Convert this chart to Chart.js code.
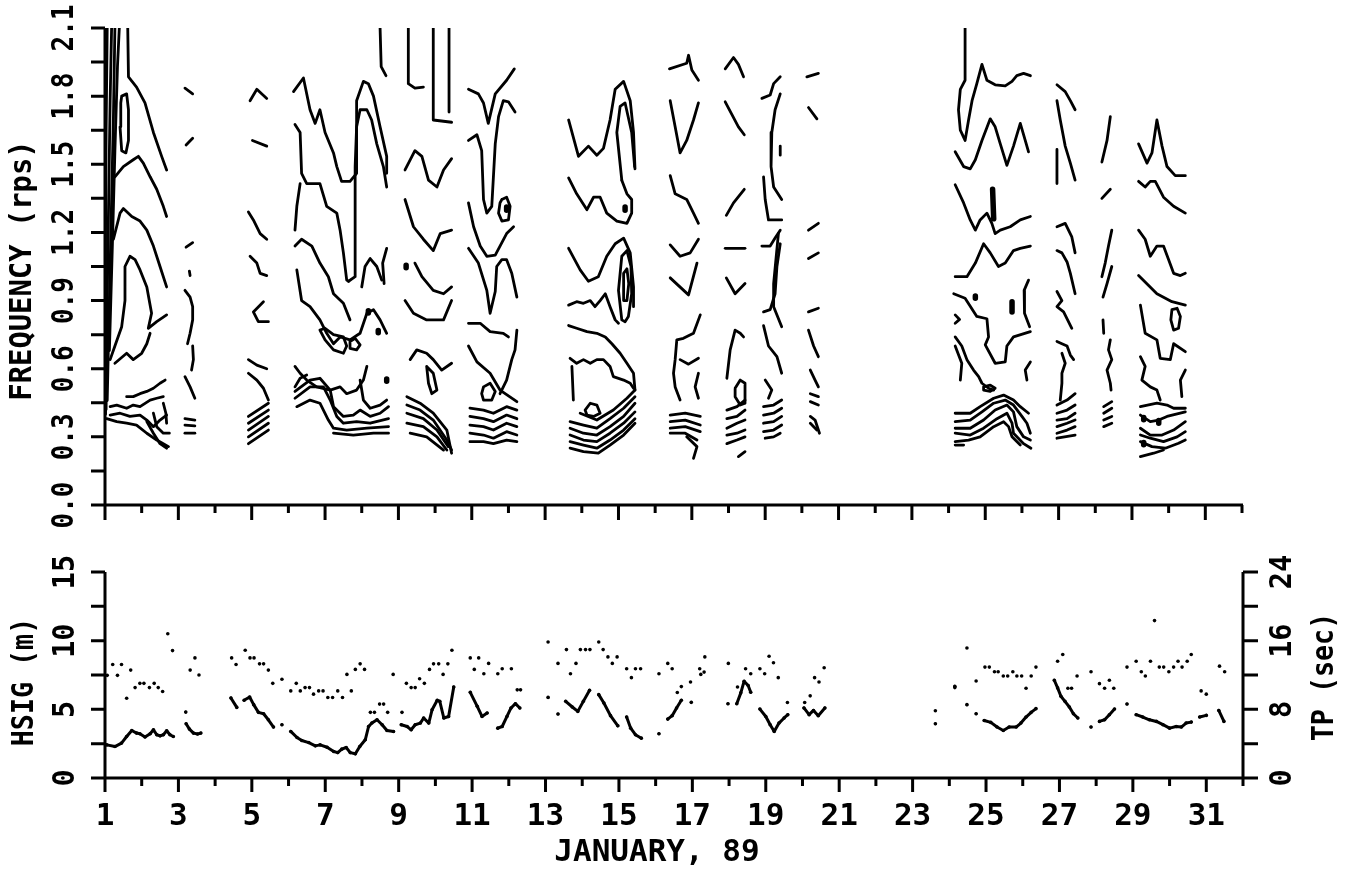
<!DOCTYPE html>
<html>
<head>
<meta charset="utf-8">
<title>Wave spectra, January 89</title>
<script src="https://cdn.jsdelivr.net/npm/chart.js@4.4.1/dist/chart.umd.min.js"></script>
<style>
  html, body { margin: 0; padding: 0; background: #fff; }
  #wrap { position: relative; width: 1354px; height: 876px; }
  #wrap canvas { position: absolute; left: 0; }
  #spectra { top: 0; }
  #waves { top: 540px; }
</style>
</head>
<body>
<div id="wrap">
  <canvas id="spectra" width="1354" height="540"></canvas>
  <canvas id="waves" width="1354" height="336"></canvas>
</div>
<script>
// axis ranges and labels
const dayLabels = [1, 3, 5, 7, 9, 11, 13, 15, 17, 19, 21, 23, 25, 27, 29, 31];
const freqTicks = [0.0, 0.3, 0.6, 0.9, 1.2, 1.5, 1.8, 2.1];
const hsigTicks = [0, 5, 10, 15];
const tpTicks = [0, 8, 16, 24];

// contour traces of the spectra, [day, frequency] per vertex, one list per record
const contoursDay1 = [
  [[1.0,0.40],[1.01,0.756],[1.02,1.195],[1.03,1.64],[1.06,2.10]],
  [[1.03,0.42],[1.06,0.90],[1.10,1.345],[1.14,1.78],[1.18,2.10]],
  [[1.06,0.46],[1.12,0.90],[1.18,1.345],[1.23,1.71],[1.27,2.10]],
  [[1.12,0.68],[1.21,1.195],[1.27,1.56],[1.34,1.93],[1.39,2.10]],
  [[1.62,2.10],[1.64,1.885],[1.86,1.84],[2.09,1.77],[2.32,1.64],[2.545,1.535],[2.68,1.475]],
  [[1.455,1.80],[1.59,1.81],[1.64,1.74],[1.64,1.605],[1.57,1.55],[1.455,1.56],[1.41,1.665],[1.43,1.77],[1.455,1.80]],
  [[1.27,1.445],[1.50,1.49],[1.77,1.52],[1.91,1.535],[2.045,1.505],[2.23,1.445],[2.41,1.39],[2.59,1.315],[2.68,1.27]],
  [[1.23,1.17],[1.41,1.285],[1.50,1.305],[1.73,1.27],[1.955,1.25],[2.14,1.21],[2.32,1.14],[2.5,1.05],[2.68,0.96]],
  [[1.14,0.64],[1.27,0.70],[1.455,0.785],[1.545,0.90],[1.545,1.05],[1.68,1.095],[1.82,1.08],[1.955,1.035],[2.14,0.96],[2.27,0.844],[2.18,0.778],[2.41,0.807],[2.68,0.837]],
  [[1.27,0.624],[1.59,0.668],[1.77,0.64],[2.0,0.668],[2.14,0.71],[2.23,0.756]],
  [[1.59,0.477],[1.77,0.477],[1.955,0.49],[2.14,0.50],[2.32,0.514],[2.5,0.536],[2.64,0.55]],
  [[1.14,0.433],[1.32,0.44],[1.59,0.426],[1.77,0.44],[1.955,0.433],[2.23,0.462],[2.41,0.47],[2.59,0.477]],
  [[1.14,0.396],[1.41,0.404],[1.68,0.39],[1.955,0.396],[2.14,0.374],[2.32,0.345],[2.5,0.374],[2.68,0.396]],
  [[1.045,0.38],[1.32,0.367],[1.59,0.36],[1.86,0.352],[2.14,0.316],[2.41,0.286],[2.59,0.27],[2.73,0.257]],
  [[2.14,0.367],[2.32,0.316],[2.5,0.27],[2.68,0.25]],
  [[2.32,0.404],[2.41,0.345],[2.59,0.316],[2.755,0.316]],
  [[2.59,0.448],[2.66,0.404],[2.68,0.36]]
];
const contoursDay3 = [
  [[3.18,1.835],[3.39,1.81]],
  [[3.21,1.585],[3.39,1.615]],
  [[3.21,1.135],[3.39,1.155]],
  [[3.30,1.03],[3.32,1.01]],
  [[3.18,0.945],[3.32,0.915],[3.39,0.873],[3.39,0.815],[3.32,0.756],[3.25,0.71]],
  [[3.39,0.70],[3.41,0.64],[3.36,0.594]],
  [[3.18,0.565],[3.32,0.52],[3.45,0.47]],
  [[3.18,0.38],[3.45,0.374]],
  [[3.18,0.352],[3.45,0.348]],
  [[3.18,0.316],[3.45,0.316]]
];
const contoursDay5 = [
  [[4.955,1.78],[5.14,1.83],[5.41,1.79]],
  [[5.02,1.605],[5.41,1.58]],
  [[4.91,1.29],[5.045,1.255],[5.23,1.195],[5.41,1.17]],
  [[4.955,1.095],[5.14,1.065],[5.23,1.02],[5.41,1.01]],
  [[5.32,0.895],[5.045,0.85],[5.18,0.807],[5.455,0.807]],
  [[4.91,0.64],[5.14,0.616],[5.41,0.60]],
  [[4.91,0.58],[5.14,0.55],[5.32,0.514],[5.455,0.462]],
  [[4.91,0.39],[5.455,0.448]],
  [[4.91,0.36],[5.455,0.418]],
  [[4.91,0.33],[5.455,0.39]],
  [[4.91,0.30],[5.455,0.36]],
  [[4.91,0.27],[5.455,0.33]]
];
const contoursDay6 = [
  [[8.5,2.10],[8.53,1.93],[8.66,1.89]],
  [[6.14,1.82],[6.41,1.88],[6.59,1.74],[6.73,1.68],[6.86,1.74],[7.0,1.64],[7.23,1.55],[7.32,1.49],[7.45,1.425],[7.68,1.425],[7.86,1.46],[7.86,1.78],[8.045,1.865],[8.18,1.855],[8.32,1.80],[8.5,1.665],[8.68,1.535],[8.68,1.46]],
  [[7.64,0.985],[7.82,1.005],[7.82,1.49],[7.86,1.665],[7.955,1.74],[8.14,1.74],[8.27,1.695],[8.41,1.59],[8.59,1.49],[8.68,1.40]],
  [[6.18,1.675],[6.32,1.64],[6.36,1.46],[6.5,1.415],[6.86,1.415],[7.045,1.315],[7.32,1.285],[7.41,1.21],[7.5,1.11],[7.59,0.99],[7.64,0.985]],
  [[6.32,1.415],[6.23,1.315],[6.18,1.21]],
  [[6.18,1.14],[6.36,1.17],[6.64,1.14],[6.86,1.065],[7.09,1.005],[7.23,0.93],[7.5,0.888],[7.68,0.815]],
  [[8.0,0.96],[8.09,1.05],[8.23,1.085],[8.41,1.05],[8.545,0.99]],
  [[8.68,1.13],[8.57,1.065],[8.61,0.975]],
  [[6.23,1.035],[6.36,0.90],[6.59,0.873],[6.86,0.815],[7.045,0.756],[7.23,0.71],[7.41,0.74],[7.68,0.727],[7.955,0.756],[8.14,0.844],[8.32,0.86],[8.5,0.815],[8.68,0.756]],
  [[6.86,0.77],[7.0,0.727],[7.23,0.683],[7.5,0.668],[7.59,0.70],[7.5,0.74],[7.23,0.75],[7.0,0.778],[6.86,0.77]],
  [[7.68,0.72],[7.82,0.734],[7.955,0.705],[7.86,0.683],[7.68,0.69],[7.68,0.72]],
  [[6.18,0.61],[6.32,0.58],[6.5,0.55],[6.77,0.52],[7.14,0.506],[7.41,0.52],[7.59,0.49],[7.86,0.506],[8.045,0.55],[8.14,0.61]],
  [[6.18,0.52],[6.32,0.558],[6.5,0.572]],
  [[6.18,0.50],[6.59,0.55],[6.86,0.558],[7.14,0.506],[7.23,0.433],[7.5,0.39],[7.77,0.396],[7.955,0.418],[8.23,0.39],[8.5,0.404],[8.73,0.433]],
  [[6.18,0.47],[6.59,0.52],[6.955,0.52],[7.14,0.462],[7.32,0.39],[7.5,0.36],[7.86,0.367],[8.23,0.36],[8.73,0.38]],
  [[6.23,0.433],[6.59,0.462],[6.86,0.448],[7.09,0.374],[7.23,0.338],[7.59,0.33],[8.14,0.338],[8.73,0.345]],
  [[7.23,0.316],[7.77,0.308],[8.32,0.316],[8.73,0.316]],
  [[7.955,0.55],[8.045,0.462],[8.23,0.426],[8.5,0.44],[8.68,0.462]]
];
const contoursDay9 = [
  [[9.27,2.10],[9.27,1.855],[9.45,1.835],[9.68,1.84]],
  [[9.95,2.10],[9.95,1.695],[10.45,1.685]],
  [[10.38,2.10],[10.38,1.73]],
  [[9.18,1.475],[9.45,1.56],[9.64,1.535],[9.82,1.43],[10.05,1.40],[10.23,1.475],[10.45,1.525]],
  [[9.18,1.345],[9.41,1.225],[9.68,1.17],[9.95,1.12],[10.14,1.195],[10.45,1.21]],
  [[9.45,1.065],[9.64,1.005],[9.95,0.945],[10.23,0.93],[10.45,0.96]],
  [[9.18,0.90],[9.41,0.844],[9.77,0.815],[10.23,0.815],[10.45,0.90]],
  [[9.32,0.64],[9.5,0.683],[9.77,0.668],[9.95,0.64],[10.18,0.594],[10.45,0.624]],
  [[9.77,0.61],[9.95,0.58],[10.05,0.506],[9.91,0.49],[9.82,0.536],[9.77,0.61]],
  [[9.23,0.477],[9.59,0.448],[9.95,0.404],[10.32,0.33],[10.45,0.228]],
  [[9.23,0.44],[9.59,0.418],[9.95,0.374],[10.32,0.286],[10.45,0.242]],
  [[9.23,0.404],[9.68,0.38],[10.05,0.33],[10.36,0.257]],
  [[9.23,0.36],[9.68,0.345],[10.05,0.30],[10.32,0.242]],
  [[9.32,0.316],[9.77,0.30],[10.23,0.242]]
];
const contoursDay11 = [
  [[10.91,1.83],[11.18,1.81],[11.32,1.77],[11.45,1.68],[11.64,1.81],[11.95,1.87],[12.16,1.92]],
  [[10.91,1.605],[11.14,1.63],[11.27,1.56],[11.32,1.345],[11.41,1.285],[11.545,1.315],[11.64,1.59],[11.73,1.71],[11.86,1.78],[12.0,1.775],[12.18,1.73]],
  [[11.82,1.345],[11.95,1.355],[12.045,1.315],[12.0,1.255],[11.82,1.25],[11.73,1.285],[11.77,1.33],[11.82,1.345]],
  [[10.91,1.33],[11.05,1.225],[11.23,1.14],[11.41,1.095],[11.64,1.10],[11.77,1.14],[11.95,1.195],[12.14,1.225]],
  [[10.91,1.13],[11.18,1.065],[11.41,0.945],[11.5,0.844],[11.64,0.94],[11.68,1.05],[11.82,1.08],[11.95,1.08],[12.09,1.02],[12.23,0.915]],
  [[10.91,0.80],[11.23,0.80],[11.5,0.763],[11.86,0.756],[12.0,0.74]],
  [[10.91,0.70],[11.14,0.63],[11.5,0.58],[11.77,0.506],[12.23,0.455]],
  [[12.23,0.77],[12.18,0.683],[12.09,0.64],[11.95,0.55],[11.77,0.49]],
  [[11.32,0.52],[11.5,0.536],[11.64,0.50],[11.545,0.462],[11.32,0.462],[11.27,0.49],[11.32,0.52]],
  [[10.95,0.426],[11.32,0.418],[11.59,0.404],[11.95,0.433],[12.23,0.418]],
  [[10.95,0.39],[11.32,0.38],[11.59,0.367],[11.95,0.396],[12.23,0.38]],
  [[10.95,0.352],[11.32,0.345],[11.59,0.33],[11.95,0.36],[12.23,0.345]],
  [[10.95,0.316],[11.32,0.308],[11.59,0.294],[11.95,0.323],[12.23,0.308]],
  [[10.95,0.279],[11.32,0.279],[11.59,0.27],[11.95,0.286],[12.23,0.279]]
];
const contoursDay13 = [
  [[13.64,1.695],[13.91,1.535],[14.18,1.58],[14.41,1.54],[14.59,1.57],[14.77,1.695],[14.91,1.83],[15.14,1.865],[15.32,1.78],[15.41,1.64],[15.45,1.48]],
  [[15.09,1.43],[14.955,1.64],[15.045,1.755],[15.18,1.77],[15.36,1.64],[15.44,1.49]],
  [[13.64,1.44],[13.86,1.37],[14.14,1.30],[14.32,1.355],[14.5,1.355],[14.68,1.285],[14.955,1.25],[15.23,1.24],[15.36,1.285],[15.36,1.345],[15.23,1.37],[15.09,1.43]],
  [[13.64,1.13],[13.955,1.035],[14.18,0.985],[14.45,1.005],[14.68,1.095],[14.91,1.15],[15.14,1.175],[15.32,1.11],[15.41,0.96],[15.41,0.873]],
  [[15.09,0.815],[15.0,0.945],[15.09,1.095],[15.23,1.12],[15.34,1.05],[15.36,0.93],[15.27,0.83],[15.18,0.807],[15.09,0.815]],
  [[15.14,0.90],[15.14,1.02],[15.23,1.04],[15.28,0.975],[15.23,0.90],[15.14,0.90]],
  [[13.64,0.88],[13.86,0.895],[14.045,0.888],[14.23,0.90],[14.36,0.873],[14.5,0.90],[14.64,0.93],[14.77,0.873],[14.91,0.815],[15.0,0.80]],
  [[13.64,0.79],[13.86,0.778],[14.14,0.763],[14.41,0.756],[14.64,0.74],[14.82,0.71],[15.045,0.668],[15.23,0.624],[15.41,0.58],[15.45,0.506]],
  [[13.68,0.646],[13.86,0.624],[14.045,0.64],[14.23,0.624],[14.41,0.64],[14.59,0.64],[14.77,0.61],[14.86,0.565],[15.14,0.55],[15.32,0.536],[15.41,0.514]],
  [[13.73,0.61],[13.75,0.536],[13.77,0.462]],
  [[14.09,0.418],[14.23,0.448],[14.41,0.44],[14.5,0.404],[14.32,0.39],[14.14,0.396],[14.09,0.418]],
  [[13.955,0.404],[14.41,0.374],[14.86,0.418],[15.23,0.47],[15.45,0.506]],
  [[13.68,0.367],[14.045,0.352],[14.41,0.338],[14.77,0.38],[15.14,0.426],[15.45,0.477]],
  [[13.68,0.338],[14.045,0.316],[14.41,0.308],[14.77,0.345],[15.14,0.39],[15.45,0.448]],
  [[13.68,0.308],[14.045,0.286],[14.41,0.279],[14.77,0.316],[15.14,0.36],[15.45,0.41]],
  [[13.68,0.279],[14.045,0.264],[14.41,0.25],[14.77,0.286],[15.14,0.33],[15.45,0.38]],
  [[13.68,0.25],[14.045,0.235],[14.45,0.228],[14.77,0.264],[15.14,0.308],[15.45,0.36]]
];
const contoursDay16 = [
  [[16.39,1.92],[16.86,1.945],[16.91,1.98],[17.0,1.915],[17.18,1.87]],
  [[16.41,1.78],[16.545,1.665],[16.68,1.55],[16.86,1.605],[17.045,1.695],[17.18,1.77]],
  [[16.41,1.45],[16.545,1.37],[16.86,1.345],[17.045,1.285],[17.18,1.24]],
  [[16.41,1.145],[16.68,1.095],[16.955,1.11],[17.18,1.17]],
  [[16.41,1.00],[16.91,0.925],[17.14,1.065]],
  [[17.23,0.837],[17.045,0.756],[16.77,0.734],[16.59,0.727],[16.545,0.64],[16.5,0.58],[16.545,0.52],[16.68,0.462]],
  [[16.68,0.64],[16.91,0.62],[17.18,0.646]],
  [[17.18,0.58],[17.09,0.52],[17.18,0.47]],
  [[16.41,0.396],[16.82,0.404],[17.23,0.39]],
  [[16.41,0.367],[16.82,0.374],[17.23,0.352]],
  [[16.41,0.338],[16.82,0.345],[17.23,0.323]],
  [[16.41,0.316],[16.82,0.316],[17.14,0.286]],
  [[16.86,0.30],[17.14,0.257],[17.045,0.205]]
];
const contoursDay18 = [
  [[17.91,1.92],[18.136,1.97],[18.27,1.94],[18.41,1.885]],
  [[17.91,1.775],[18.09,1.72],[18.27,1.665],[18.43,1.63]],
  [[17.94,1.275],[18.136,1.33],[18.43,1.39]],
  [[17.91,1.13],[18.45,1.13]],
  [[17.94,1.0],[18.18,0.93],[18.45,0.975]],
  [[17.955,0.558],[18.045,0.683],[18.18,0.77],[18.32,0.756],[18.41,0.74]],
  [[18.18,0.514],[18.32,0.55],[18.45,0.536],[18.45,0.448],[18.32,0.44],[18.18,0.477],[18.18,0.514]],
  [[17.955,0.418],[18.23,0.433],[18.45,0.462]],
  [[17.955,0.38],[18.23,0.39],[18.45,0.418]],
  [[17.955,0.338],[18.23,0.36],[18.45,0.374]],
  [[17.955,0.308],[18.23,0.316],[18.45,0.33]],
  [[17.955,0.27],[18.23,0.286],[18.45,0.30]],
  [[18.27,0.213],[18.45,0.235]]
];
const contoursDay19 = [
  [[18.91,1.79],[19.136,1.805],[19.23,1.855],[19.41,1.885]],
  [[19.41,1.81],[19.27,1.74],[19.18,1.64],[19.16,1.49],[19.23,1.40],[19.45,1.345]],
  [[19.41,1.58],[19.41,1.54]],
  [[18.955,1.445],[19.0,1.345],[19.09,1.255],[19.45,1.255]],
  [[18.91,1.14],[19.136,1.14],[19.27,1.175],[19.41,1.21]],
  [[19.36,1.195],[19.23,0.975],[19.23,0.873],[19.45,0.785]],
  [[19.41,1.15],[19.32,1.05],[19.27,0.93],[19.136,0.86],[18.955,0.85]],
  [[18.955,0.79],[19.09,0.70],[19.32,0.653],[19.45,0.58]],
  [[19.0,0.55],[19.18,0.506],[19.09,0.47]],
  [[18.955,0.433],[19.23,0.44],[19.45,0.462]],
  [[18.955,0.396],[19.23,0.404],[19.45,0.426]],
  [[18.955,0.36],[19.23,0.367],[19.45,0.39]],
  [[18.955,0.323],[19.23,0.33],[19.45,0.352]],
  [[19.0,0.294],[19.23,0.30],[19.41,0.316]]
];
const contoursDay20 = [
  [[20.136,1.885],[20.45,1.90]],
  [[20.18,1.75],[20.41,1.70]],
  [[20.18,1.21],[20.45,1.24]],
  [[20.18,1.085],[20.45,1.11]],
  [[20.18,0.85],[20.45,0.866]],
  [[20.18,0.77],[20.32,0.70],[20.45,0.653]],
  [[20.23,0.594],[20.36,0.55],[20.45,0.52]],
  [[20.23,0.49],[20.45,0.477]],
  [[20.23,0.455],[20.45,0.44]],
  [[20.23,0.39],[20.36,0.374],[20.48,0.316]],
  [[20.23,0.36],[20.41,0.33]]
];
const contoursDay24 = [
  [[24.45,2.10],[24.45,1.87],[24.32,1.83],[24.27,1.74],[24.32,1.65],[24.45,1.605],[24.545,1.695],[24.64,1.78],[24.77,1.855],[24.91,1.94],[25.045,1.87],[25.27,1.85],[25.545,1.845],[25.73,1.865],[25.86,1.89],[26.045,1.90],[26.23,1.89]],
  [[24.18,1.555],[24.41,1.49],[24.59,1.48],[24.73,1.52],[24.91,1.605],[25.136,1.70],[25.27,1.665],[25.41,1.59],[25.59,1.495],[25.77,1.58],[25.955,1.68],[26.09,1.605],[26.18,1.555]],
  [[24.18,1.41],[24.41,1.33],[24.59,1.255],[24.73,1.21],[24.86,1.255],[25.045,1.285],[25.18,1.24],[25.27,1.195],[25.41,1.21],[25.68,1.225],[25.955,1.255],[26.23,1.27]],
  [[24.18,1.005],[24.5,1.005],[24.73,1.065],[24.955,1.15],[25.136,1.11],[25.36,1.05],[25.545,1.065],[25.77,1.12],[25.955,1.13],[26.23,1.14]],
  [[24.14,0.93],[24.45,0.91],[24.77,0.83],[25.045,0.82],[25.09,0.74],[25.0,0.705],[25.27,0.624],[25.545,0.63],[25.59,0.70],[25.77,0.74],[26.23,0.763]],
  [[26.18,0.99],[26.06,0.945],[26.07,0.844],[26.21,0.785]],
  [[24.18,0.837],[24.3,0.817],[24.18,0.80]],
  [[24.18,0.74],[24.36,0.70],[24.5,0.64],[24.68,0.594],[24.82,0.565],[24.91,0.536],[25.09,0.514],[25.23,0.506]],
  [[24.18,0.70],[24.36,0.624],[24.32,0.55]],
  [[26.23,0.63],[26.09,0.594],[26.136,0.55]],
  [[24.955,0.52],[25.136,0.528],[25.27,0.514],[25.136,0.50],[24.955,0.506],[24.955,0.52]],
  [[24.18,0.404],[24.59,0.404],[24.86,0.433],[25.23,0.47],[25.5,0.484],[25.77,0.462],[25.955,0.433],[26.18,0.404]],
  [[24.18,0.367],[24.59,0.374],[24.91,0.41],[25.23,0.448],[25.545,0.462],[25.77,0.44],[26.0,0.39],[26.136,0.36],[26.23,0.316]],
  [[24.18,0.338],[24.59,0.338],[24.955,0.374],[25.27,0.418],[25.59,0.44],[25.77,0.41],[25.86,0.345],[26.045,0.30],[26.23,0.286]],
  [[24.18,0.316],[24.59,0.308],[24.955,0.338],[25.32,0.38],[25.59,0.404],[25.73,0.36],[25.77,0.316],[26.045,0.27],[26.245,0.25]],
  [[24.18,0.279],[24.545,0.286],[24.86,0.30],[25.23,0.345],[25.5,0.367],[25.636,0.345],[25.73,0.30],[25.955,0.264]],
  [[24.18,0.264],[24.41,0.264]]
];
const contoursDay27 = [
  [[26.955,1.85],[27.18,1.82],[27.32,1.78],[27.45,1.74]],
  [[26.955,1.78],[27.045,1.695],[27.18,1.58],[27.32,1.505],[27.45,1.43]],
  [[26.955,1.565],[26.955,1.415]],
  [[26.955,1.225],[27.18,1.24],[27.36,1.18],[27.45,1.11]],
  [[26.955,1.12],[27.09,1.11],[27.23,1.07],[27.32,1.02],[27.45,0.93]],
  [[26.955,0.94],[27.09,0.90],[26.955,0.873],[27.136,0.85],[27.36,0.778]],
  [[26.955,0.72],[27.09,0.71],[27.23,0.70],[27.32,0.66],[27.41,0.64]],
  [[27.09,0.668],[27.18,0.624],[27.09,0.58],[27.09,0.536],[27.045,0.462]],
  [[27.45,0.49],[27.23,0.462],[26.955,0.44]],
  [[26.955,0.404],[27.23,0.418],[27.45,0.44]],
  [[26.955,0.374],[27.23,0.38],[27.45,0.404]],
  [[26.955,0.345],[27.23,0.36],[27.45,0.374]],
  [[26.955,0.316],[27.23,0.33],[27.45,0.345]],
  [[26.955,0.294],[27.45,0.308]]
];
const contoursDay28 = [
  [[28.41,1.71],[28.32,1.605],[28.18,1.51]],
  [[28.18,1.35],[28.41,1.39]],
  [[28.45,1.21],[28.36,1.14],[28.27,1.065],[28.18,1.005]],
  [[28.45,1.05],[28.32,0.975],[28.21,0.915]],
  [[28.21,0.815],[28.23,0.756]],
  [[28.41,0.727],[28.36,0.683],[28.45,0.64],[28.32,0.594],[28.41,0.536],[28.43,0.506]],
  [[28.23,0.433],[28.45,0.455]],
  [[28.23,0.404],[28.45,0.426]],
  [[28.23,0.374],[28.45,0.39]],
  [[28.23,0.345],[28.45,0.36]]
];
const contoursDay29 = [
  [[29.18,1.59],[29.41,1.505],[29.545,1.55],[29.68,1.695],[29.82,1.58],[29.955,1.49],[30.18,1.45],[30.455,1.45]],
  [[29.18,1.425],[29.36,1.40],[29.5,1.425],[29.636,1.425],[29.86,1.355],[30.136,1.315],[30.455,1.285]],
  [[29.18,1.21],[29.36,1.17],[29.5,1.095],[29.68,1.14],[29.86,1.14],[30.0,1.08],[30.136,1.02],[30.32,1.01],[30.455,1.02]],
  [[29.18,1.01],[29.68,0.93],[30.09,0.895],[30.455,0.88]],
  [[30.09,0.86],[30.23,0.866],[30.32,0.83],[30.27,0.778],[30.136,0.77],[30.06,0.815],[30.09,0.86]],
  [[29.23,0.88],[29.36,0.756],[29.68,0.727],[29.77,0.646],[30.045,0.64],[30.136,0.71],[30.455,0.675]],
  [[29.23,0.653],[29.36,0.61],[29.27,0.55],[29.5,0.52],[29.68,0.506],[29.77,0.462]],
  [[30.455,0.594],[30.32,0.55],[30.36,0.477]],
  [[29.23,0.433],[29.68,0.448],[29.955,0.44],[30.136,0.426],[30.455,0.426]],
  [[29.23,0.396],[29.5,0.367],[29.73,0.374],[29.955,0.39],[30.455,0.41]],
  [[29.23,0.338],[29.5,0.308],[29.82,0.308],[30.136,0.33],[30.455,0.367]],
  [[29.23,0.308],[29.5,0.294],[29.86,0.279],[30.23,0.30],[30.455,0.323]],
  [[29.23,0.279],[29.545,0.257],[29.91,0.25],[30.27,0.272],[30.455,0.286]],
  [[29.23,0.213],[29.59,0.228],[29.86,0.242]]
];
// small closed peaks, drawn heavier
const contourSpots = [
  [[8.18,0.855],[8.18,0.845]], [[8.45,0.768],[8.45,0.758]], [[8.68,0.555],[8.68,0.545]],
  [[9.21,1.055],[9.21,1.045]],
  [[11.95,1.312],[11.95,1.298]],
  [[15.18,1.312],[15.18,1.298]],
  [[25.2,1.39],[25.23,1.26]],
  [[24.73,0.92],[24.73,0.91]],
  [[25.73,0.895],[25.73,0.85]],
  [[29.73,0.372],[29.73,0.36]], [[29.32,0.385],[29.32,0.375]], [[29.32,0.275],[29.32,0.265]]
];

// significant wave height (m), one list per unbroken run of records
const hsigRuns = [
  [[1.05,2.41],[1.27,2.29],[1.45,2.54],[1.59,3.02],[1.73,3.46],[1.86,3.27],[1.95,3.22],[2.09,2.98],[2.23,3.22],[2.32,3.51],[2.41,3.15],[2.5,3.07],[2.59,3.15],[2.68,3.44],[2.77,3.15],[2.86,3.02]],
  [[3.2,4.8]],
  [[3.21,3.95],[3.30,3.56],[3.41,3.27],[3.52,3.2],[3.61,3.27]],
  [[4.43,5.83],[4.59,5.14]],
  [[4.79,5.66],[4.94,5.9],[5.05,5.34],[5.18,4.78],[5.32,4.68],[5.45,4.24],[5.59,3.71]],
  [[5.82,3.88]],
  [[6.06,3.39],[6.23,2.95],[6.36,2.73],[6.55,2.58],[6.73,2.34],[6.86,2.41],[7.05,2.24],[7.23,1.93],[7.34,1.85],[7.45,2.1],[7.57,2.22],[7.68,1.85],[7.82,1.76],[7.94,2.29],[8.09,2.78],[8.18,3.75],[8.27,4.0],[8.41,4.24],[8.55,3.88],[8.68,3.46],[8.86,3.39]],
  [[9.07,3.88],[9.23,3.75],[9.34,3.51],[9.45,3.88],[9.59,4.0],[9.68,4.37],[9.82,4.0],[9.91,4.97],[10.05,5.66],[10.12,5.58],[10.23,4.37],[10.36,4.48],[10.5,6.63]],
  [[10.95,6.24],[11.14,5.22],[11.27,4.48],[11.41,4.73]],
  [[11.70,3.63],[11.82,3.75],[11.95,4.48],[12.06,5.1],[12.18,5.41],[12.3,5.1]],
  [[13.07,5.87]],
  [[13.34,4.66]],
  [[13.55,5.58],[13.73,5.17],[13.88,4.85],[14.03,5.58],[14.2,6.39]],
  [[14.45,6.07],[14.59,5.46],[14.77,4.54],[14.97,3.8]],
  [[15.21,4.44],[15.32,3.63],[15.45,3.15],[15.61,2.9]],
  [[16.09,3.22]],
  [[16.33,4.29],[16.45,4.54],[16.57,5.1],[16.7,5.66]],
  [[16.97,5.51]],
  [[17.97,5.41]],
  [[18.21,5.41],[18.32,6.2],[18.41,7.05],[18.52,6.73],[18.59,6.24]],
  [[18.84,5.02],[19.0,4.48],[19.12,3.88],[19.23,3.39],[19.36,4.0],[19.5,4.37],[19.6,4.61]],
  [[20.04,5.1],[20.18,4.61],[20.3,4.92],[20.43,4.54],[20.61,5.1]],
  [[23.62,3.95]],
  [[24.15,6.68]],
  [[24.48,5.34]],
  [[24.73,4.68]],
  [[24.95,4.19],[25.13,4.05],[25.3,3.71],[25.47,3.46],[25.63,3.71],[25.82,3.71],[25.95,4.0],[26.09,4.44],[26.23,4.78],[26.36,5.05]],
  [[26.86,7.12],[26.95,6.56],[27.04,5.95],[27.15,5.58],[27.27,5.17],[27.38,4.68],[27.5,4.37]],
  [[27.86,3.71]],
  [[28.09,4.12],[28.23,4.24],[28.36,4.61],[28.5,5.02]],
  [[28.84,5.39]],
  [[29.09,4.61],[29.27,4.44],[29.45,4.24],[29.64,4.12],[29.82,3.88],[30.0,3.63],[30.18,3.75],[30.32,3.71],[30.45,4.0],[30.59,4.07]],
  [[30.82,4.44],[31.0,4.56]],
  [[31.34,4.92],[31.48,4.12]]
];

// peak period (sec) per record, [day, TP]
const tpPoints = [
  [1.06,11.96],[1.21,13.23],[1.34,11.96],[1.45,13.23],[1.59,9.3],[1.70,12.57],[1.82,10.53],[1.95,11.03],
  [2.06,11.03],[2.21,10.53],[2.34,11.03],[2.45,10.53],[2.57,10.07],[2.71,16.8],[2.84,14.84],
  [3.32,12.57],[3.45,13.99],[3.56,12.0],
  [4.45,13.99],[4.57,13.23],[4.82,14.88],[4.95,13.99],[5.06,13.99],[5.21,13.3],[5.32,13.3],[5.45,12.57],[5.57,11.03],[5.82,11.5],
  [6.06,10.15],[6.21,11.03],[6.32,10.15],[6.45,10.53],[6.57,10.53],[6.68,9.77],[6.82,10.15],[6.94,10.15],
  [7.07,9.38],[7.2,9.38],[7.34,10.15],[7.47,9.38],[7.59,12.07],[7.71,10.15],[7.82,12.65],[7.95,13.3],
  [8.07,12.65],[8.23,7.65],[8.34,7.65],[8.48,8.61],[8.59,8.61],[8.7,7.65],[8.85,12.07],
  [9.09,7.65],[9.21,11.03],[9.34,10.53],[9.45,10.53],[9.57,11.57],[9.7,11.03],[9.84,12.65],[9.95,13.3],
  [10.09,13.3],[10.21,12.07],[10.34,13.3],[10.45,14.89],[10.95,13.99],
  [11.06,12.65],[11.18,13.99],[11.32,12.15],[11.45,13.35],[11.70,12.15],[11.82,12.72],
  [12.07,12.72],[12.23,10.27],[12.32,10.27],
  [13.07,15.84],[13.34,13.35],[13.57,14.96],[13.68,12.15],[13.83,13.35],[13.95,14.96],
  [14.09,14.96],[14.21,14.96],[14.45,15.84],[14.57,14.96],[14.7,14.11],[14.82,13.35],[14.95,14.11],
  [15.21,12.72],[15.34,11.69],[15.45,12.72],[15.59,12.72],
  [16.09,12.15],[16.33,13.35],[16.45,12.72],[16.59,9.96],[16.7,10.65],[16.95,11.19],
  [17.2,12.72],[17.23,12.07],[17.32,12.34],[17.34,14.11],[17.98,13.35],
  [18.23,10.61],[18.45,12.72],[18.59,12.15],[18.84,12.72],[18.97,12.15],
  [19.09,14.19],[19.21,13.42],[19.34,11.69],[19.59,8.8],
  [20.06,8.8],[20.21,9.57],[20.33,11.69],[20.45,11.19],[20.59,12.84],
  [23.62,7.84],[24.15,10.53],[24.48,15.14],[24.73,11.3],[24.97,12.92],
  [25.09,12.92],[25.23,12.38],[25.33,12.38],[25.47,11.88],[25.59,11.88],[25.73,12.38],[25.84,11.88],[25.97,11.88],
  [26.09,10.46],[26.23,11.88],[26.36,12.92],[26.95,13.61],
  [27.09,14.38],[27.23,10.46],[27.33,10.46],[27.48,11.88],[27.86,12.38],
  [28.09,10.99],[28.23,10.46],[28.36,11.38],[28.48,10.46],[28.84,12.92],
  [29.09,13.61],[29.23,12.38],[29.34,11.88],[29.48,13.61],[29.59,18.34],[29.72,12.92],[29.84,12.92],[29.98,12.38],
  [30.11,12.92],[30.23,13.61],[30.34,12.92],[30.48,13.61],[30.59,14.38],[30.86,10.15],
  [31.0,9.77],[31.36,13.03],[31.5,12.38]
];

const ink = '#000';
const labelFont = 'bold 31px "DejaVu Sans Mono", "Liberation Mono", monospace';

function rotatedText(ctx, text, x, y, squeeze) {
  ctx.save();
  ctx.translate(x, y);
  ctx.rotate(-Math.PI / 2);
  ctx.scale(squeeze, 1);
  ctx.fillText(text, 0, 0);
  ctx.restore();
}

function traceDataset(trace, width) {
  return {
    data: trace.map(p => ({ x: p[0], y: p[1] })),
    showLine: true,
    borderColor: ink,
    borderWidth: width,
    borderCapStyle: 'round',
    borderJoinStyle: 'round',
    pointRadius: 0,
    tension: 0
  };
}

// axes, ticks and lettering of the spectrum panel
const spectraFrame = {
  id: 'spectraFrame',
  afterDraw(chart) {
    const { ctx, chartArea: a, scales: { x, y } } = chart;
    ctx.save();
    ctx.strokeStyle = ink;
    ctx.lineWidth = 3;
    ctx.beginPath();
    ctx.moveTo(a.left, a.top);
    ctx.lineTo(a.left, a.bottom + 1.5);
    ctx.moveTo(a.left - 14, a.bottom);
    ctx.lineTo(a.right + 1, a.bottom);
    for (let d = 1; d <= 32; d++) {
      const px = x.getPixelForValue(d);
      ctx.moveTo(px, a.bottom);
      ctx.lineTo(px, a.bottom + (d % 2 ? 15 : 8));
    }
    for (let k = 0; k <= 14; k++) {
      const py = y.getPixelForValue(k * 0.15);
      ctx.moveTo(a.left - 14, py);
      ctx.lineTo(a.left, py);
    }
    ctx.stroke();

    ctx.fillStyle = ink;
    ctx.font = labelFont;
    ctx.textAlign = 'center';
    ctx.textBaseline = 'middle';
    freqTicks.forEach(v => rotatedText(ctx, v.toFixed(1), 65, y.getPixelForValue(v), 0.84));
    rotatedText(ctx, 'FREQUENCY (rps)', 23, (a.top + a.bottom) / 2 + 4, 0.93);
    ctx.restore();
  }
};

// axes, ticks and lettering of the wave height / period panel
const wavesFrame = {
  id: 'wavesFrame',
  afterDraw(chart) {
    const { ctx, chartArea: a, scales: { x, y, y2 } } = chart;
    ctx.save();
    ctx.strokeStyle = ink;
    ctx.lineWidth = 3;
    ctx.beginPath();
    ctx.moveTo(a.left, a.top);
    ctx.lineTo(a.left, a.bottom + 1.5);
    ctx.moveTo(a.right, a.top);
    ctx.lineTo(a.right, a.bottom + 1.5);
    ctx.moveTo(a.left - 14, a.bottom);
    ctx.lineTo(a.right + 15, a.bottom);
    for (let d = 1; d <= 32; d++) {
      const px = x.getPixelForValue(d);
      ctx.moveTo(px, a.bottom);
      ctx.lineTo(px, a.bottom + (d % 2 ? 14 : 8));
    }
    for (let k = 0; k <= 6; k++) {
      const py = y.getPixelForValue(k * 2.5);
      ctx.moveTo(a.left - 14, py);
      ctx.lineTo(a.left, py);
      const qy = y2.getPixelForValue(k * 4);
      ctx.moveTo(a.right, qy);
      ctx.lineTo(a.right + 15, qy);
    }
    ctx.stroke();

    ctx.fillStyle = ink;
    ctx.font = labelFont;
    ctx.textAlign = 'center';
    ctx.textBaseline = 'middle';
    dayLabels.forEach(d => ctx.fillText(String(d), x.getPixelForValue(d), a.bottom + 39));
    ctx.fillText('JANUARY, 89', 657, a.bottom + 75);
    hsigTicks.forEach(v => rotatedText(ctx, String(v), 66, y.getPixelForValue(v), 0.92));
    rotatedText(ctx, 'HSIG (m)', 25, (a.top + a.bottom) / 2 + 7, 0.86);
    tpTicks.forEach(v => rotatedText(ctx, String(v), a.right + 40, y2.getPixelForValue(v), 0.92));
    rotatedText(ctx, 'TP (sec)', a.right + 82, (a.top + a.bottom) / 2 + 2, 0.86);
    ctx.restore();
  }
};

const hiddenAxis = {
  type: 'linear',
  ticks: { display: false },
  grid: { display: false },
  border: { display: false }
};

const contourTraces = [].concat(
  contoursDay1, contoursDay3, contoursDay5, contoursDay6, contoursDay9, contoursDay11,
  contoursDay13, contoursDay16, contoursDay18, contoursDay19, contoursDay20,
  contoursDay24, contoursDay27, contoursDay28, contoursDay29
);

new Chart(document.getElementById('spectra'), {
  type: 'scatter',
  data: {
    datasets: contourTraces.map(t => traceDataset(t, 2.8))
      .concat(contourSpots.map(t => traceDataset(t, 5.5)))
  },
  options: {
    responsive: false,
    animation: false,
    events: [],
    devicePixelRatio: 1,
    layout: { padding: { left: 0, right: 112, top: 28, bottom: 0 } },
    plugins: { legend: { display: false }, tooltip: { enabled: false } },
    scales: {
      x: Object.assign({}, hiddenAxis, { min: 1, max: 32, afterFit(s) { s.height = 35; } }),
      y: Object.assign({}, hiddenAxis, { min: 0, max: 2.1, afterFit(s) { s.width = 105; } })
    }
  },
  plugins: [spectraFrame]
});

const hsigData = [];
hsigRuns.forEach((run, i) => {
  if (i) hsigData.push({ x: run[0][0], y: null });
  run.forEach(p => hsigData.push({ x: p[0], y: p[1] }));
});

new Chart(document.getElementById('waves'), {
  type: 'scatter',
  data: {
    datasets: [
      {
        label: 'HSIG',
        data: hsigData,
        yAxisID: 'y',
        showLine: true,
        spanGaps: false,
        borderColor: ink,
        borderWidth: 3,
        borderCapStyle: 'round',
        borderJoinStyle: 'round',
        pointRadius: 1.8,
        pointBorderWidth: 0,
        pointBackgroundColor: ink,
        tension: 0
      },
      {
        label: 'TP',
        data: tpPoints.map(p => ({ x: p[0], y: p[1] })),
        yAxisID: 'y2',
        showLine: false,
        pointRadius: 1.8,
        pointBorderWidth: 0,
        pointBackgroundColor: ink
      }
    ]
  },
  options: {
    responsive: false,
    animation: false,
    events: [],
    devicePixelRatio: 1,
    layout: { padding: { left: 0, right: 0, top: 32, bottom: 0 } },
    plugins: { legend: { display: false }, tooltip: { enabled: false } },
    scales: {
      x: Object.assign({}, hiddenAxis, { min: 1, max: 32, afterFit(s) { s.height = 98; } }),
      y: Object.assign({}, hiddenAxis, { position: 'left', min: 0, max: 15, afterFit(s) { s.width = 105; } }),
      y2: Object.assign({}, hiddenAxis, { position: 'right', min: 0, max: 24, afterFit(s) { s.width = 111; } })
    }
  },
  plugins: [wavesFrame]
});
</script>
</body>
</html>
